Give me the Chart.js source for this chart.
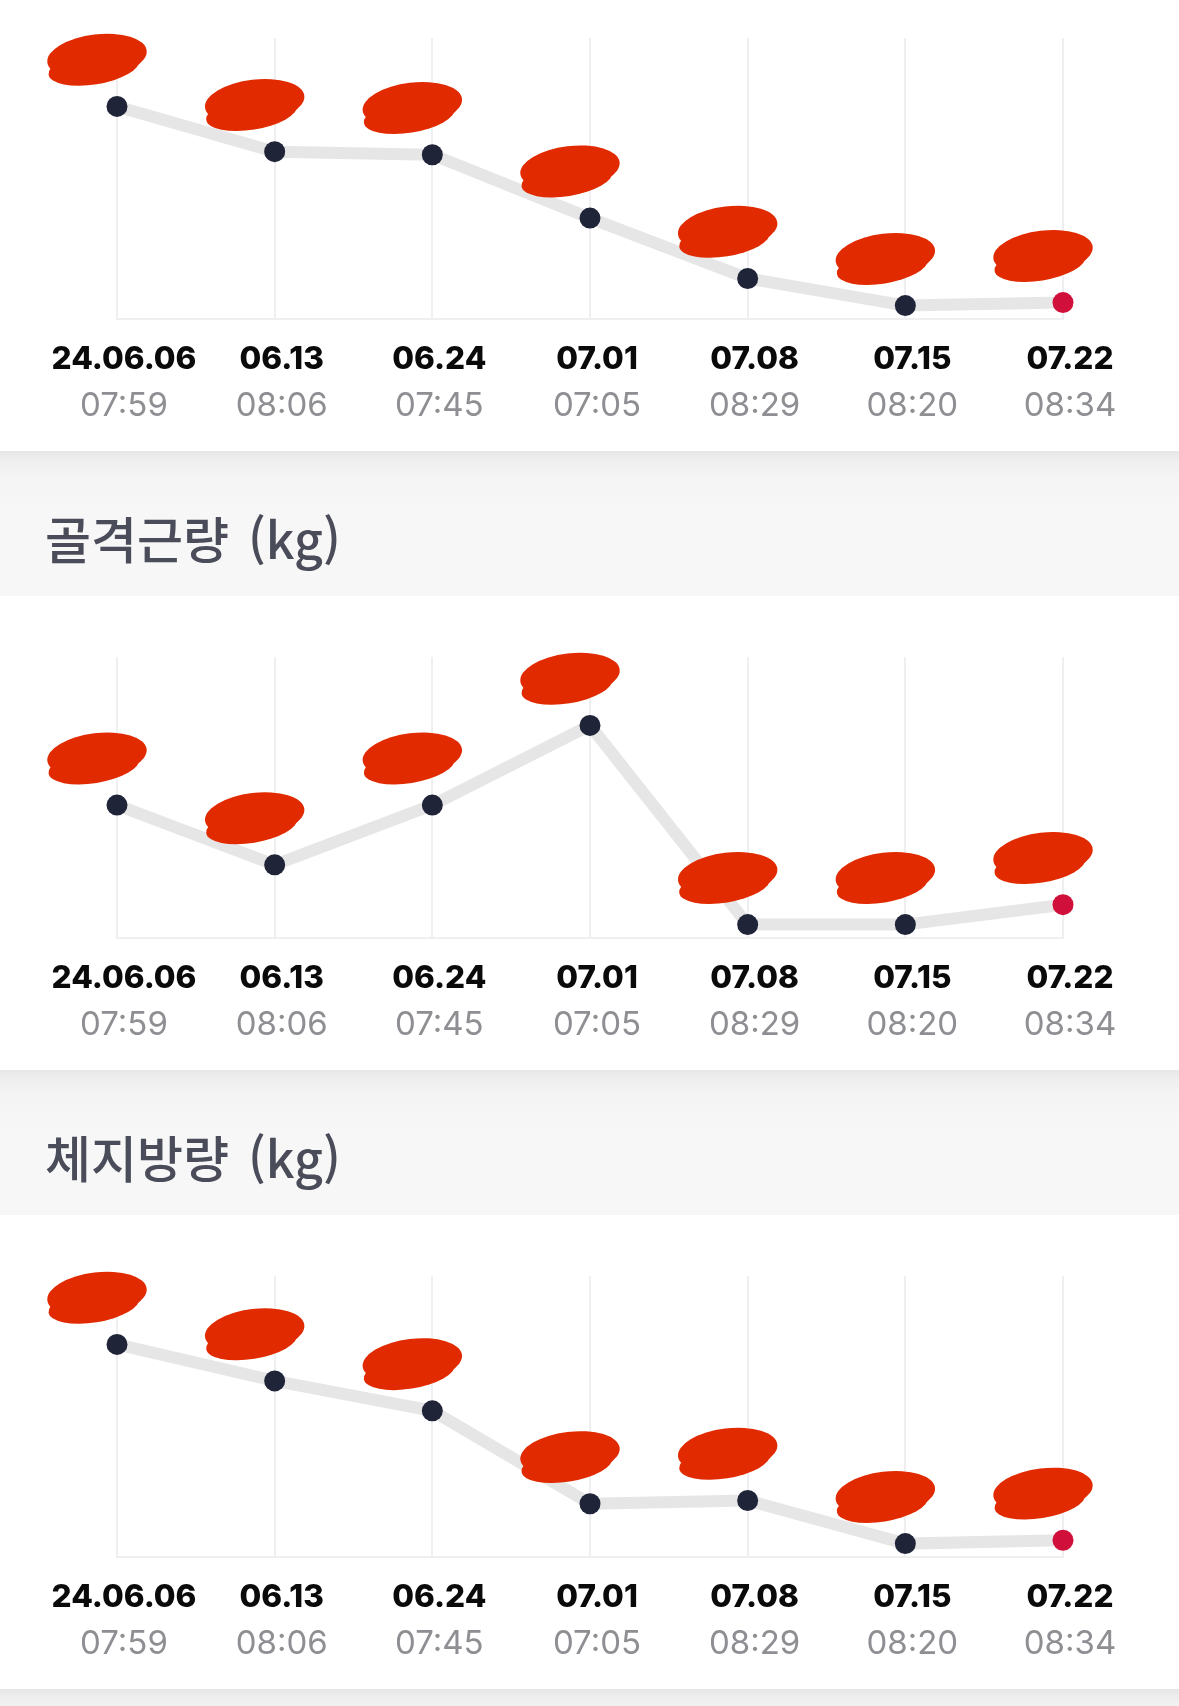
<!DOCTYPE html>
<html lang="ko">
<head>
<meta charset="utf-8">
<script src="https://cdn.jsdelivr.net/npm/chart.js@4.4.1/dist/chart.umd.min.js"></script>
<style>
  html, body { margin:0; padding:0; background:#ffffff; }
  body { width:1179px; height:1706px; position:relative; overflow:hidden; }
  .sec { position:absolute; left:0; width:1179px; height:474px; background:#ffffff; }
  .band { position:absolute; left:0; width:1179px;
          background:linear-gradient(to bottom, #e7e7e8 0px, #efeff0 10px, #f4f4f5 26px, #f7f7f8 60px, #f7f7f8 100%); }
  .band span { position:absolute; left:45px; font-family:"Noto Sans CJK KR", "Noto Sans", sans-serif;
               font-size:50px; line-height:50px; font-weight:500; color:#4a4d59; white-space:nowrap; word-spacing:5px; }
  canvas { display:block; }
</style>
</head>
<body>
<div class="sec" style="top:-23px;"><canvas id="c1" width="1179" height="474"></canvas></div>
<div class="band" style="top:451px;height:145px;"><span style="top:61px;">골격근량 (kg)</span></div>
<div class="sec" style="top:596px;"><canvas id="c2" width="1179" height="474"></canvas></div>
<div class="band" style="top:1070px;height:145px;"><span style="top:61px;">체지방량 (kg)</span></div>
<div class="sec" style="top:1215px;"><canvas id="c3" width="1179" height="474"></canvas></div>
<div class="band" style="top:1689px;height:17px;"></div>

<script>
// ---- data ----
const dates = ['24.06.06', '06.13', '06.24', '07.01', '07.08', '07.15', '07.22'];
const times = ['07:59', '08:06', '07:45', '07:05', '08:29', '08:20', '08:34'];
const weightKg = [81.0, 79.5, 79.4, 77.3, 75.3, 74.4, 74.5];   // top chart (title cut off)
const muscleKg = [30.8, 30.5, 30.8, 31.2, 30.2, 30.2, 30.3];   // 골격근량
const fatKg    = [26.0, 24.9, 24.0, 21.2, 21.3, 20.0, 20.1];   // 체지방량

// ---- styling ----
const GRID = '#efeff1';
const LINE = '#e6e6e7';
const DOT = '#1f2438';
const LAST_DOT = '#d0103a';
const SCRIBBLE = '#e12a00';
const CLEAR = 'rgba(0,0,0,0)';

// red redaction blobs drawn over each value label position
const scribblePlugin = {
  id: 'scribble',
  afterDatasetsDraw(chart) {
    const ctx = chart.ctx;
    const meta = chart.getDatasetMeta(0);
    ctx.save();
    ctx.fillStyle = SCRIBBLE;
    meta.data.forEach(pt => {
      const cx = pt.x - 20, cy = pt.y - 47;
      ctx.beginPath();
      ctx.ellipse(cx, cy - 3, 50, 22, -0.12, 0, Math.PI * 2);
      ctx.fill();
      ctx.beginPath();
      ctx.ellipse(cx - 3, cy + 8, 46, 17, -0.16, 0, Math.PI * 2);
      ctx.fill();
    });
    ctx.restore();
  }
};

function makeChart(id, values) {
  const lo = Math.min(...values), hi = Math.max(...values);
  const span = (hi - lo) || 1;
  const yMin = lo - span * 13 / 199.4;
  const yMax = hi + span * 68.5 / 199.4;
  const colors = values.map((v, i) => i === values.length - 1 ? LAST_DOT : DOT);
  return new Chart(document.getElementById(id), {
    type: 'line',
    data: {
      labels: dates,
      datasets: [{
        data: values,
        xAxisID: 'x',
        yAxisID: 'y',
        borderColor: LINE,
        borderWidth: 12,
        tension: 0,
        fill: false,
        pointRadius: 10.5,
        pointHoverRadius: 10.5,
        pointBorderWidth: 0,
        pointBackgroundColor: colors,
        pointBorderColor: colors,
        clip: false
      }]
    },
    options: {
      responsive: false,
      animation: false,
      devicePixelRatio: 1,
      events: [],
      layout: { padding: { left: 117, right: 116, top: 61, bottom: 25 } },
      plugins: { legend: { display: false }, tooltip: { enabled: false }, title: { display: false } },
      scales: {
        x: {
          type: 'category',
          position: 'bottom',
          weight: 0,
          offset: false,
          grid: { color: GRID, lineWidth: 2, drawTicks: true, tickLength: 22, tickColor: CLEAR },
          border: { display: true, color: GRID, width: 2 },
          ticks: {
            autoSkip: false, maxRotation: 0, minRotation: 0,
            padding: 0, labelOffset: 7,
            color: '#0a0a0a',
            font: { family: 'Inter', size: 31.5, weight: 800, lineHeight: 1.2 }
          }
        },
        x2: {
          type: 'category',
          labels: times,
          position: 'bottom',
          weight: 1,
          offset: false,
          grid: { display: false, drawTicks: true, tickLength: 8, tickColor: CLEAR },
          border: { display: false },
          ticks: {
            autoSkip: false, maxRotation: 0, minRotation: 0,
            padding: 0, labelOffset: 7,
            color: '#8e8e93',
            font: { family: 'Inter', size: 33, weight: 'normal', lineHeight: 1.2 }
          }
        },
        y: { display: false, min: yMin, max: yMax }
      }
    },
    plugins: [scribblePlugin]
  });
}

makeChart('c1', weightKg);
makeChart('c2', muscleKg);
makeChart('c3', fatKg);
</script>
</body>
</html>
